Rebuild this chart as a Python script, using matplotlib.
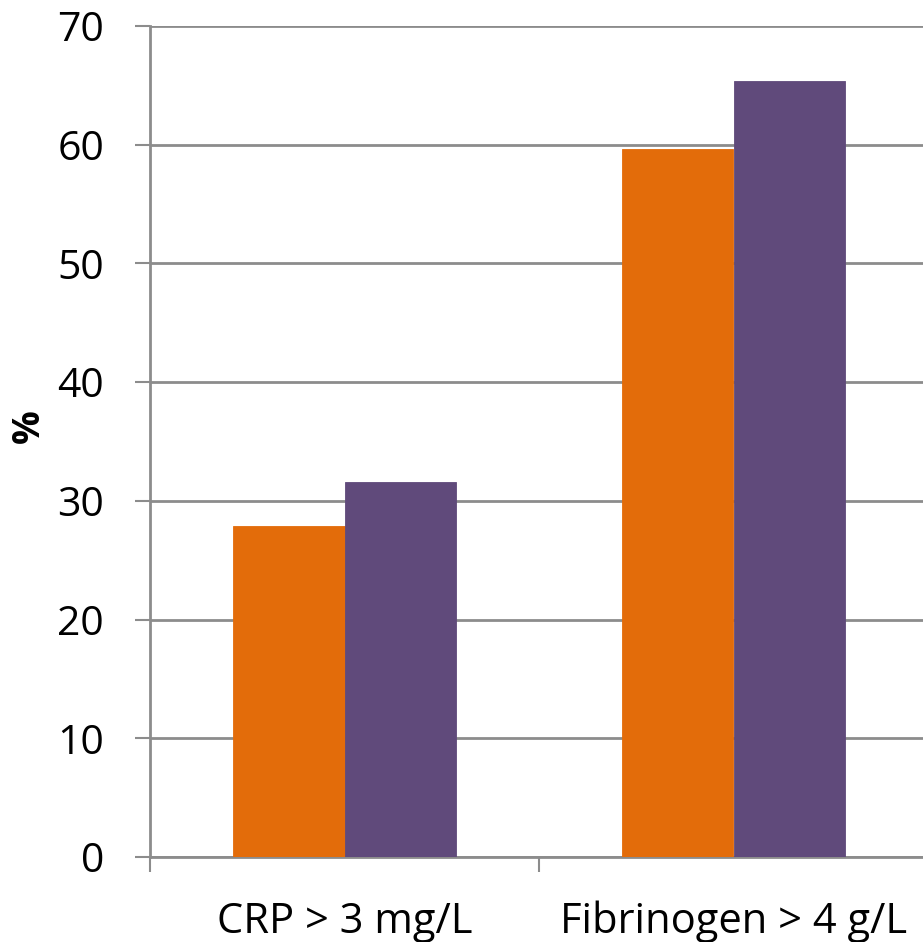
import matplotlib
matplotlib.use("Agg")
import matplotlib.pyplot as plt
import matplotlib.transforms as mtransforms
import numpy as np

categories = ["CRP > 3 mg/L", "Fibrinogen > 4 g/L"]
series_a = [27.9, 59.6]   # orange
series_b = [31.6, 65.4]   # purple
y_ticks = [0, 10, 20, 30, 40, 50, 60, 70]

orange = "#E36C0A"
purple = "#604A7B"
grid_c = "#8C8C8C"

W, H = 923, 942
fig = plt.figure(figsize=(W / 100, H / 100), dpi=100)
left, right = 150 / W, 928 / W
bottom, top = (H - 857) / H, (H - 26) / H
ax = fig.add_axes([left, bottom, right - left, top - bottom])

x = np.arange(len(categories))
bw = 0.286
ax.bar(x - bw / 2, series_a, width=bw, color=orange, edgecolor=orange, linewidth=0.6, zorder=3)
ax.bar(x + bw / 2, series_b, width=bw, color=purple, edgecolor=purple, linewidth=0.6, zorder=3)

ax.set_xlim(-0.5, 1.5)
ax.set_ylim(0, 70)
ax.set_yticks(y_ticks)
ax.set_yticklabels([str(v) for v in y_ticks], fontsize=29.5, family="Open Sans")
ax.yaxis.grid(True, color=grid_c, linewidth=2, zorder=0)
ax.set_axisbelow(True)

ax.set_xticks([-0.5, 0.5, 1.5])
ax.set_xticklabels([])
ax.tick_params(axis="x", length=11, width=1.5, color=grid_c, direction="out")
ax.tick_params(axis="y", length=11, width=1.5, color=grid_c, direction="out", pad=22)

trans = mtransforms.blended_transform_factory(ax.transData, fig.transFigure)
for xi, lab in zip(x, categories):
    ax.text(xi, (H - 933) / H, lab, transform=trans, ha="center", va="baseline",
            fontsize=30, family="Open Sans", clip_on=False)

for s in ["top", "right"]:
    ax.spines[s].set_visible(False)
for s in ["left", "bottom"]:
    ax.spines[s].set_color(grid_c)
    ax.spines[s].set_linewidth(2)

fig.text(29 / W, 1 - 426 / H, "%", rotation=90, fontsize=27, fontweight="bold",
         ha="center", va="center", family="Open Sans")

fig.savefig("out.png", dpi=100, facecolor="white")
